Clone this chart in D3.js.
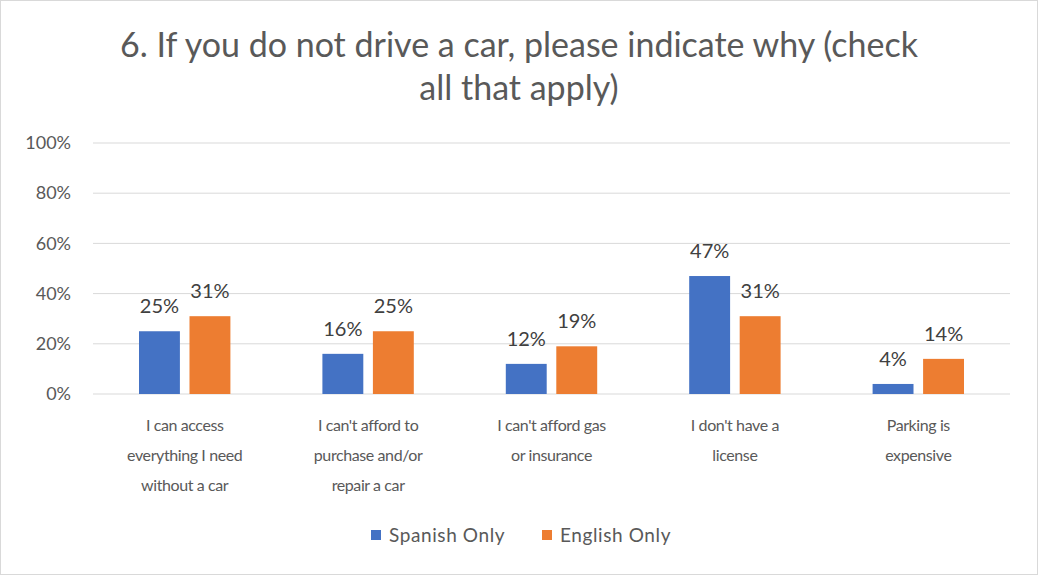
<!DOCTYPE html>
<html>
<head>
<meta charset="utf-8">
<script src="https://cdn.jsdelivr.net/npm/d3@7"></script>
<style>
  html, body { margin: 0; padding: 0; background: #fff; }
  svg { display: block; font-family: Lato, "Open Sans", sans-serif; }
</style>
</head>
<body>
<svg id="chart"></svg>
<script>
const categories = [
  ["I can access", "everything I need", "without a car"],
  ["I can't afford to", "purchase and/or", "repair a car"],
  ["I can't afford gas", "or insurance"],
  ["I don't have a", "license"],
  ["Parking is", "expensive"]
];
const spanish = [0.25, 0.16, 0.12, 0.47, 0.04];
const english = [0.31, 0.25, 0.19, 0.31, 0.14];
const seriesNames = ["Spanish Only", "English Only"];
const seriesColors = ["#4472c4", "#ed7d31"];
const yTicks = [0, 0.2, 0.4, 0.6, 0.8, 1.0];
const titleLines = ["6. If you do not drive a car, please indicate why (check", "all that apply)"];

const W = 1038, H = 575;
const margin = { top: 143, right: 28, bottom: 181, left: 93 };
const innerW = W - margin.left - margin.right;
const innerH = H - margin.top - margin.bottom;

const svg = d3.select('#chart').attr('width', W).attr('height', H);

// outer frame
svg.append('rect')
  .attr('x', 0.5).attr('y', 0.5)
  .attr('width', W - 1).attr('height', H - 1)
  .attr('fill', '#fff').attr('stroke', '#d9d9d9');

// title
svg.append('g').selectAll('text')
  .data(titleLines)
  .enter().append('text')
  .attr('x', W / 2)
  .attr('y', (d, i) => 57 + i * 43)
  .attr('text-anchor', 'middle')
  .attr('fill', '#595959')
  .attr('font-size', 34)
  .text(d => d);

const g = svg.append('g').attr('transform', `translate(${margin.left},${margin.top})`);

const x0 = d3.scaleBand().domain(d3.range(categories.length)).range([0, innerW]).paddingInner(0).paddingOuter(0);
const x1 = d3.scaleBand().domain([0, 1]).range([46, x0.bandwidth() - 46]).paddingInner(0.19);
const y = d3.scaleLinear().domain([0, 1]).range([innerH, 0]);

// gridlines
g.append('g').selectAll('line')
  .data(yTicks)
  .enter().append('line')
  .attr('x1', 0).attr('x2', innerW)
  .attr('y1', d => y(d)).attr('y2', d => y(d))
  .attr('stroke', '#d9d9d9').attr('stroke-width', 1);

// y axis labels
const yAxis = d3.axisLeft(y).tickValues(yTicks).tickFormat(d3.format('.0%')).tickSize(0).tickPadding(22);
const ya = g.append('g').call(yAxis);
ya.select('.domain').remove();
ya.selectAll('text').attr('fill', '#595959').attr('font-size', 18).attr('font-family', 'Lato, "Open Sans", sans-serif');

// bars
const series = [spanish, english];
const groups = g.append('g').selectAll('g')
  .data(categories.map((c, i) => i))
  .enter().append('g')
  .attr('transform', i => `translate(${x0(i)},0)`);

groups.selectAll('rect')
  .data(i => series.map((s, k) => ({ k, v: s[i] })))
  .enter().append('rect')
  .attr('x', d => x1(d.k))
  .attr('width', x1.bandwidth())
  .attr('y', d => y(d.v))
  .attr('height', d => innerH - y(d.v))
  .attr('fill', d => seriesColors[d.k]);

groups.selectAll('text.lbl')
  .data(i => series.map((s, k) => ({ k, v: s[i] })))
  .enter().append('text')
  .attr('class', 'lbl')
  .attr('x', d => x1(d.k) + x1.bandwidth() / 2)
  .attr('y', d => y(d.v) - 18)
  .attr('text-anchor', 'middle')
  .attr('fill', '#404040')
  .attr('font-size', 20)
  .text(d => d3.format('.0%')(d.v));

// category labels
const cat = g.append('g').selectAll('text')
  .data(categories)
  .enter().append('text')
  .attr('text-anchor', 'middle')
  .attr('fill', '#595959')
  .attr('font-size', 16)
  .attr('letter-spacing', -0.4)
  .attr('transform', (d, i) => `translate(${x0(i) + x0.bandwidth() / 2},${innerH + 37})`);
cat.selectAll('tspan')
  .data(d => d)
  .enter().append('tspan')
  .attr('x', 0)
  .attr('dy', (d, i) => i === 0 ? 0 : 30)
  .text(d => d);

// legend
const legend = svg.append('g').attr('transform', 'translate(371,530)');
const li = legend.selectAll('g')
  .data(seriesNames)
  .enter().append('g')
  .attr('transform', (d, i) => `translate(${i * 171},0)`);
li.append('rect').attr('width', 10).attr('height', 10).attr('fill', (d, i) => seriesColors[i]);
li.append('text')
  .attr('x', 18).attr('y', 12)
  .attr('fill', '#595959')
  .attr('font-size', 19)
  .attr('letter-spacing', 0.6)
  .text(d => d);
</script>
</body>
</html>
